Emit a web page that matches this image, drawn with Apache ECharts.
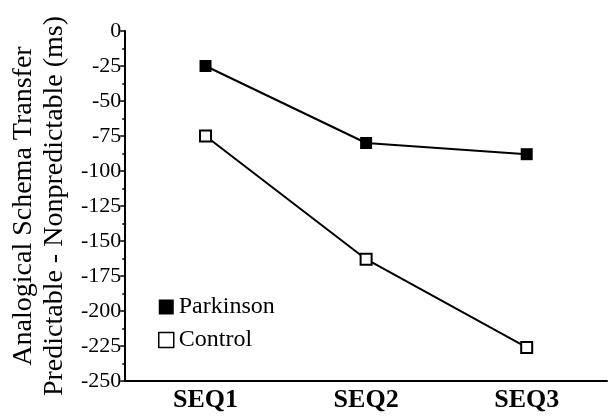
<!DOCTYPE html>
<html>
<head>
<meta charset="utf-8">
<script src="https://cdn.jsdelivr.net/npm/echarts@6/dist/echarts.min.js"></script>
<style>
  html, body { margin: 0; padding: 0; background: #fff; }
  #chart { width: 608px; height: 417px; }
</style>
</head>
<body>
<div id="chart"></div>
<script>
var categories = ['SEQ1', 'SEQ2', 'SEQ3']
var parkinson = [-25, -80, -88]
var control = [-75, -163, -226]

var serif = '"Liberation Serif", "Times New Roman", serif'

var chart = echarts.init(document.getElementById('chart'))
chart.setOption({
  animation: false,
  backgroundColor: '#fff',
  grid: { left: 121, right: 1, top: 31, bottom: 36 },
  legend: {
    orient: 'vertical',
    left: 153,
    top: 290,
    itemWidth: 15,
    itemHeight: 15,
    itemGap: 9,
    textStyle: { fontFamily: serif, fontSize: 24, color: '#000' },
    data: [
      { name: 'Parkinson', icon: 'rect', itemStyle: { color: '#000', borderWidth: 0 } },
      { name: 'Control', icon: 'rect', itemStyle: { color: '#fff', borderColor: '#000', borderWidth: 1.5 } }
    ]
  },
  xAxis: {
    type: 'category',
    data: categories,
    boundaryGap: true,
    axisLine: { onZero: false, lineStyle: { color: '#000', width: 2 } },
    axisTick: { show: false },
    axisLabel: {
      margin: 6,
      fontFamily: serif,
      fontSize: 26,
      fontWeight: 'bold',
      color: '#000'
    }
  },
  yAxis: {
    type: 'value',
    min: -250,
    max: 0,
    interval: 25,
    name: 'Analogical Schema Transfer\nPredictable - Nonpredictable (ms)',
    nameLocation: 'middle',
    nameGap: 40,
    nameTextStyle: { fontFamily: serif, fontSize: 28, color: '#000', lineHeight: 31 },
    axisLine: { show: true, lineStyle: { color: '#000', width: 2 } },
    axisTick: { show: true, length: 5, lineStyle: { color: '#000', width: 1.5 } },
    minorTick: { show: true, splitNumber: 2, length: 3, lineStyle: { color: '#000', width: 1.5 } },
    splitLine: { show: false },
    axisLabel: {
      margin: 4,
      fontFamily: serif,
      fontSize: 22,
      color: '#000'
    }
  },
  series: [
    {
      name: 'Parkinson',
      type: 'line',
      data: parkinson,
      symbol: 'rect',
      symbolSize: 12,
      lineStyle: { color: '#000', width: 2 },
      itemStyle: { color: '#000', borderWidth: 0 }
    },
    {
      name: 'Control',
      type: 'line',
      data: control,
      symbol: 'rect',
      symbolSize: 11,
      lineStyle: { color: '#000', width: 2 },
      itemStyle: { color: '#fff', borderColor: '#000', borderWidth: 2 },
      z: 3
    }
  ]
})
</script>
</body>
</html>
